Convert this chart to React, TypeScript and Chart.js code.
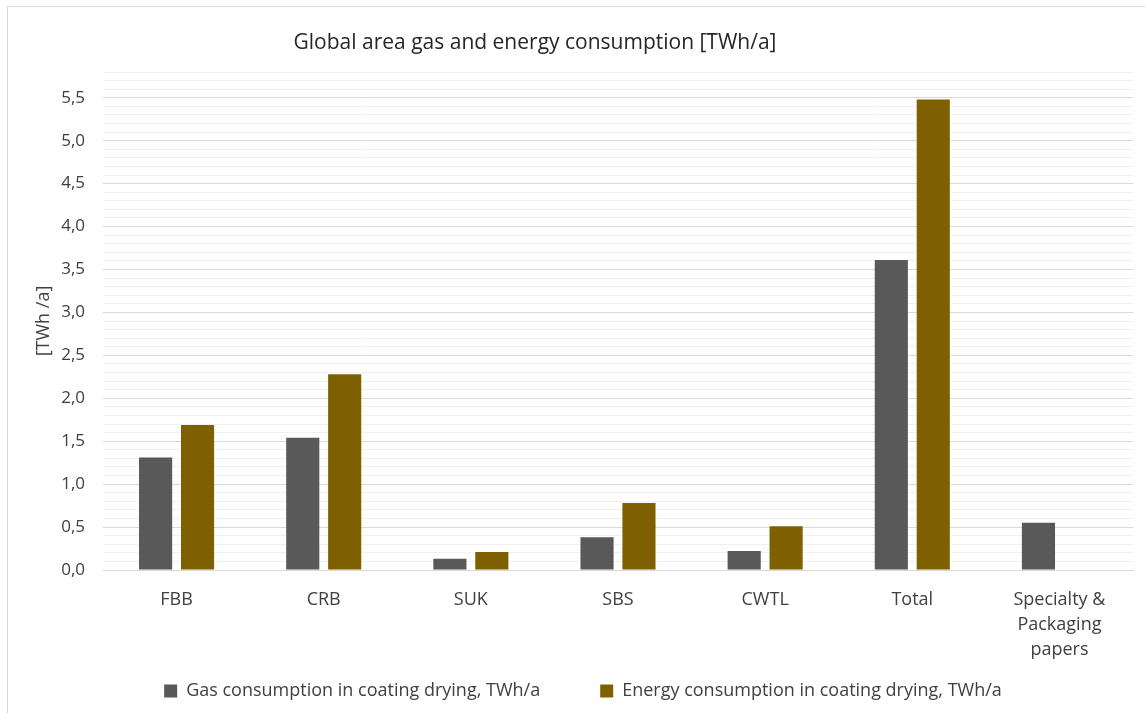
import React, { useEffect, useRef } from "react";
import { Chart, registerables } from "chart.js";

Chart.register(...registerables);

const categories: (string | string[])[] = [
  "FBB",
  "CRB",
  "SUK",
  "SBS",
  "CWTL",
  "Total",
  ["Specialty &", "Packaging", "papers"],
];
const gasValues = [1.31, 1.54, 0.13, 0.38, 0.22, 3.61, 0.55];
const energyValues = [1.69, 2.28, 0.21, 0.78, 0.51, 5.48, null];
const seriesNames = [
  "Gas consumption in coating drying, TWh/a",
  "Energy consumption in coating drying, TWh/a",
];
const chartTitle = "Global area gas and energy consumption [TWh/a]";
const yAxisTitle = "[TWh /a]";

const FONT = "'Open Sans', 'Noto Sans', sans-serif";
const LEGEND_PAD = 60;

const decorPlugin = {
  id: "decor",
  afterLayout(chart: any) {
    const lg = chart.legend;
    if (lg) {
      lg.left += 13;
      lg.right += 13;
      lg.top = 691 - LEGEND_PAD - 9;
      lg.bottom = chart.height;
      lg.height = lg.bottom - lg.top;
    }
  },
  beforeDraw(chart: any) {
    const ctx = chart.ctx;
    ctx.save();
    ctx.fillStyle = "#ffffff";
    ctx.fillRect(0, 0, chart.width, chart.height);
    ctx.strokeStyle = "#d9d9d9";
    ctx.lineWidth = 1;
    ctx.strokeRect(7.5, 6.5, chart.width + 20, chart.height + 20);
    ctx.restore();
  },
  afterDraw(chart: any) {
    const ctx = chart.ctx;
    ctx.save();
    ctx.font = `21px ${FONT}`;
    ctx.fillStyle = "#262626";
    ctx.textAlign = "center";
    ctx.textBaseline = "middle";
    ctx.fillText(chartTitle, 535, 43);
    ctx.restore();
  },
};

export default function App() {
  const ref = useRef<HTMLCanvasElement>(null);
  useEffect(() => {
    document.body.style.margin = "0";
    const canvas = ref.current!;
    const chart = new Chart(canvas, {
      type: "bar",
      data: {
        labels: categories,
        datasets: [
          {
            label: seriesNames[0],
            data: gasValues,
            backgroundColor: "#595959",
            categoryPercentage: 0.57,
            barPercentage: 0.79,
          },
          {
            label: seriesNames[1],
            data: energyValues,
            backgroundColor: "#7f6000",
            categoryPercentage: 0.57,
            barPercentage: 0.79,
          },
        ],
      },
      options: {
        responsive: false,
        animation: false,
        layout: { padding: { left: 7, right: 12, top: 72, bottom: 0 } },
        plugins: {
          title: { display: false },
          tooltip: { enabled: false },
          legend: {
            position: "bottom",
            maxHeight: 52,
            labels: {
              boxWidth: 13,
              boxHeight: 13,
              padding: LEGEND_PAD,
              color: "#404040",
              font: { family: FONT, size: 18 },
            },
          },
        },
        scales: {
          x: {
            grid: { display: false },
            border: { color: "#d9d9d9", width: 1 },
            afterFit: (scale: any) => {
              scale.height = 91;
            },
            ticks: {
              color: "#404040",
              font: { family: FONT, size: 18, lineHeight: 1.39 },
              padding: 9,
              maxRotation: 0,
              autoSkip: false,
            },
          },
          y: {
            min: 0,
            max: 5.8,
            afterFit: (scale: any) => {
              scale.width = 96;
            },
            border: { display: false },
            grid: {
              drawTicks: false,
              color: (c: any) => {
                const v = Math.round(c.tick.value * 10);
                return v % 5 === 0 ? "#d9d9d9" : "#f0f0f0";
              },
            },
            ticks: {
              stepSize: 0.1,
              autoSkip: false,
              padding: 18,
              color: "#404040",
              font: { family: FONT, size: 17 },
              callback: (value: any) => {
                const v = Math.round(Number(value) * 10);
                if (v % 5 !== 0) return "";
                return (v / 10).toFixed(1).replace(".", ",");
              },
            },
            title: {
              display: true,
              text: yAxisTitle,
              color: "#404040",
              font: { family: FONT, size: 18 },
              padding: { top: 26, bottom: 0 },
            },
          },
        },
      },
      plugins: [decorPlugin],
    });
    return () => chart.destroy();
  }, []);
  return <canvas ref={ref} width={1145} height={713} style={{ display: "block" }} />;
}
